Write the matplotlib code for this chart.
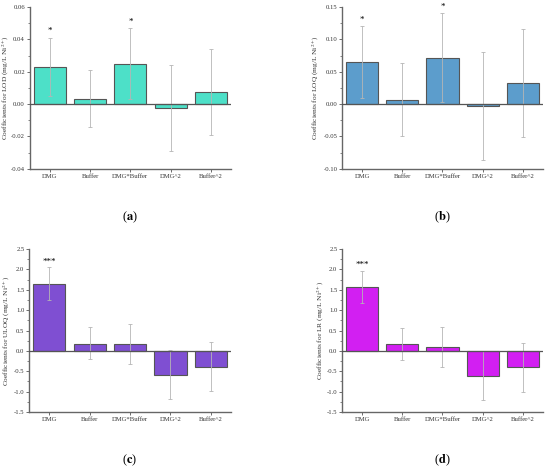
import numpy as np
import matplotlib.pyplot as plt
from matplotlib.ticker import MultipleLocator, AutoMinorLocator

plt.rcParams['font.family'] = ['Liberation Serif', 'DejaVu Serif']
plt.rcParams['mathtext.fontset'] = 'stix'

# terms of the model
terminos = ["DMG", "Buffer", "DMG*Buffer", "DMG^2", "Buffer^2"]

# (a) LOD
lod = [0.023, 0.003, 0.025, -0.0025, 0.0075]
lod_bajo = [0.005, -0.014, 0.003, -0.029, -0.019]
lod_alto = [0.041, 0.021, 0.047, 0.024, 0.034]
lod_sig = ["*", "", "*", "", ""]

# (b) LOQ
loq = [0.065, 0.007, 0.072, -0.003, 0.032]
loq_bajo = [0.009, -0.049, 0.004, -0.086, -0.051]
loq_alto = [0.121, 0.063, 0.141, 0.081, 0.116]
loq_sig = ["*", "", "*", "", ""]

# (c) ULOQ
uloq = [1.65, 0.18, 0.17, -0.58, -0.39]
uloq_bajo = [1.25, -0.21, -0.31, -1.19, -0.98]
uloq_alto = [2.05, 0.58, 0.66, 0.02, 0.21]
uloq_sig = ["***", "", "", "", ""]

# (d) LR
lr = [1.57, 0.17, 0.09, -0.61, -0.40]
lr_bajo = [1.17, -0.23, -0.39, -1.20, -1.00]
lr_alto = [1.97, 0.57, 0.59, 0.00, 0.20]
lr_sig = ["***", "", "", "", ""]

paneles = [
    (lod, lod_bajo, lod_alto, lod_sig, "LOD", "#4de0c8", (-0.04, 0.06), 0.02, 0.004, "a"),
    (loq, loq_bajo, loq_alto, loq_sig, "LOQ", "#5c9dcc", (-0.10, 0.15), 0.05, 0.009, "b"),
    (uloq, uloq_bajo, uloq_alto, uloq_sig, "ULOQ", "#7f4fd2", (-1.5, 2.5), 0.5, 0.14, "c"),
    (lr, lr_bajo, lr_alto, lr_sig, "LR", "#d21ff2", (-1.5, 2.5), 0.5, 0.14, "d"),
]

posiciones = [
    [0.054, 0.640, 0.366, 0.345],
    [0.622, 0.640, 0.365, 0.345],
    [0.053, 0.1215, 0.367, 0.3475],
    [0.622, 0.1215, 0.365, 0.3475],
]
etiquetas_y = [0.537, 0.537, 0.019, 0.019]
label_x = [-0.092, -0.104, -0.084, -0.08]

fig = plt.figure(figsize=(5.5, 4.69), dpi=100)

for (vals, bajo, alto, sig, nombre, color, ylim, paso, desp, letra), pos, ly, lx in zip(paneles, posiciones, etiquetas_y, label_x):
    ax = fig.add_axes(pos)
    x = np.arange(len(terminos))
    vals = np.array(vals)
    err = [vals - np.array(bajo), np.array(alto) - vals]
    ax.bar(x, vals, width=0.8, color=color, edgecolor="#555555", linewidth=0.8, zorder=2)
    ax.errorbar(x, vals, yerr=err, fmt="none", ecolor="#b5b5b5", elinewidth=0.6,
                capsize=1.2, capthick=0.6, zorder=3)
    for xi, s, a in zip(x, sig, alto):
        if s:
            ax.text(xi, a + desp, s, ha="center", va="center", fontsize=6.5)
    ax.axhline(0, color="#555555", linewidth=0.9, zorder=4)
    ax.set_xlim(-0.5, 4.5)
    ax.set_ylim(*ylim)
    ax.yaxis.set_major_locator(MultipleLocator(paso))
    ax.yaxis.set_minor_locator(AutoMinorLocator(2))
    if paso < 0.1:
        ax.yaxis.set_major_formatter(plt.FormatStrFormatter("%.2f"))
    else:
        ax.yaxis.set_major_formatter(plt.FormatStrFormatter("%.1f"))
    ax.set_xticks(x)
    ax.set_xticklabels(terminos)
    for lado in ["top", "right"]:
        ax.spines[lado].set_visible(False)
    for lado in ["left", "bottom"]:
        ax.spines[lado].set_color("#666666")
        ax.spines[lado].set_linewidth(1.0)
    ax.tick_params(axis="both", which="major", labelsize=4.8, length=2.2, width=0.6,
                   color="#555555", pad=1.2, labelcolor="#333333")
    ax.tick_params(axis="y", which="minor", length=1.4, width=0.5, color="#555555")
    ax.set_ylabel("Coefficients for " + nombre + r" (mg/L Ni$^{2+}$)", fontsize=5.3,
                  color="#333333")
    ax.yaxis.set_label_coords(lx, 0.5)
    fig.text(pos[0] + pos[2] / 2, ly, "(" + r"$\mathbf{" + letra + "}$" + ")",
             ha="center", va="center", fontsize=9)

fig.savefig("out.png", dpi=100)
